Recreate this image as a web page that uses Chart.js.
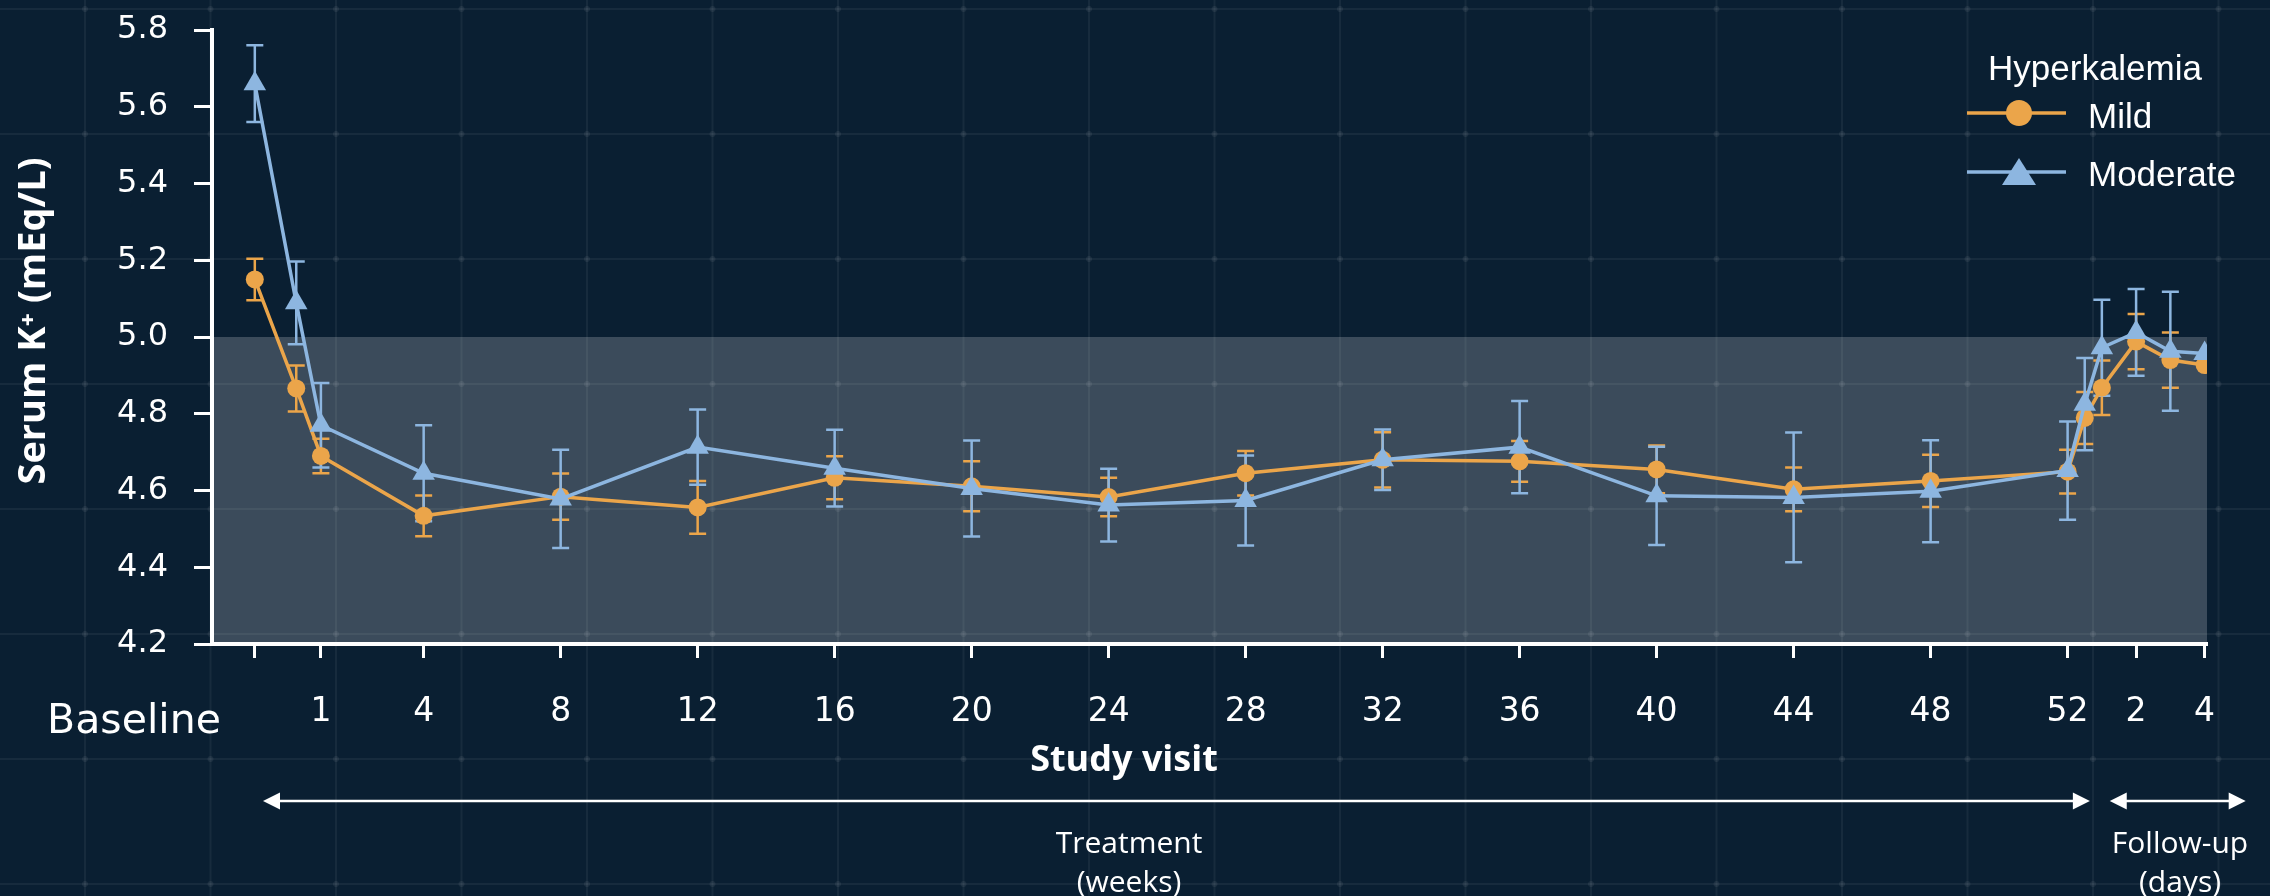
<!DOCTYPE html>
<html><head><meta charset="utf-8">
<script src="https://cdn.jsdelivr.net/npm/chart.js@4.4.1/dist/chart.umd.min.js"></script>
<style>html,body{margin:0;padding:0;background:#0a1f32;overflow:hidden}canvas{display:block}</style>
</head><body>
<canvas id="c" width="2270" height="896" style="width:2270px;height:896px"></canvas>
<script>
// ---- data (x position in weeks; follow-up days placed after week 52) ----
const visitPositions = [-0.93, 0.28, 1, 4, 8, 12, 16, 20, 24, 28, 32, 36, 40, 44, 48, 52, 52.5, 53, 54, 55, 56];
const mildMean     = [5.15, 4.866, 4.69, 4.534, 4.584, 4.556, 4.633, 4.611, 4.583, 4.645, 4.68, 4.676, 4.655, 4.603, 4.625, 4.649, 4.789, 4.868, 4.988, 4.94, 4.927];
const mildErr      = [0.054, 0.06, 0.045, 0.053, 0.06, 0.069, 0.056, 0.065, 0.05, 0.058, 0.072, 0.053, 0.062, 0.057, 0.068, 0.057, 0.068, 0.071, 0.072, 0.072, 0];
const moderateMean = [5.66, 5.089, 4.77, 4.645, 4.578, 4.713, 4.658, 4.605, 4.562, 4.574, 4.68, 4.713, 4.586, 4.582, 4.598, 4.652, 4.825, 4.972, 5.012, 4.963, 4.957];
const moderateErr  = [0.10, 0.108, 0.11, 0.125, 0.128, 0.098, 0.10, 0.125, 0.095, 0.117, 0.079, 0.12, 0.128, 0.169, 0.133, 0.128, 0.12, 0.125, 0.113, 0.155, 0];
const tickPositions = [-0.93, 1, 4, 8, 12, 16, 20, 24, 28, 32, 36, 40, 44, 48, 52, 54, 56];
const tickLabels    = ['Baseline', '1', '4', '8', '12', '16', '20', '24', '28', '32', '36', '40', '44', '48', '52', '2', '4'];
const yTicks = [4.2, 4.4, 4.6, 4.8, 5.0, 5.2, 5.4, 5.6, 5.8];
const normalRange = [4.2, 5.0];
const seriesNames = ['Mild', 'Moderate'];
const legendTitle = 'Hyperkalemia';
const yAxisTitle = 'Serum K\u207A (mEq/L)';
const xAxisTitle = 'Study visit';
const treatmentText = ['Treatment', '(weeks)'];
const followText = ['Follow-up', '(days)'];

const ORANGE = '#eba54a';
const BLUE = '#8db6e0';
const BG = '#0a1f32';

const toPts = (ys) => ys.map((y, i) => ({x: visitPositions[i], y}));

const bgPlugin = {
  id: 'bg',
  beforeDraw(chart) {
    const {ctx, width, height} = chart;
    ctx.save();
    ctx.fillStyle = BG;
    ctx.fillRect(0, 0, width, height);
    ctx.strokeStyle = 'rgba(255,255,255,0.055)';
    ctx.lineWidth = 2;
    for (let x = 85 - 125.5; x < width; x += 125.5) {
      ctx.beginPath(); ctx.moveTo(x, 0); ctx.lineTo(x, height); ctx.stroke();
    }
    for (let y = 9; y < height; y += 125) {
      ctx.beginPath(); ctx.moveTo(0, y); ctx.lineTo(width, y); ctx.stroke();
    }
    ctx.fillStyle = 'rgba(255,255,255,0.07)';
    for (let x = 85 - 125.5; x < width; x += 125.5) {
      for (let y = 9; y < height; y += 125) {
        ctx.beginPath(); ctx.arc(x, y, 3, 0, Math.PI * 2); ctx.fill();
      }
    }
    ctx.restore();
  }
};

const bandErrPlugin = {
  id: 'bandErr',
  beforeDatasetsDraw(chart) {
    const {ctx, chartArea} = chart;
    const xs = chart.scales.x, ys = chart.scales.y;
    ctx.save();
    const yTop = ys.getPixelForValue(normalRange[1]);
    const yBot = ys.getPixelForValue(normalRange[0]);
    ctx.fillStyle = 'rgba(255,255,255,0.2)';
    ctx.fillRect(chartArea.left, yTop, chartArea.right - chartArea.left, yBot - yTop);
    const sets = [[mildMean, mildErr, ORANGE], [moderateMean, moderateErr, BLUE]];
    ctx.lineWidth = 2.5;
    for (const [m, e, col] of sets) {
      ctx.strokeStyle = col;
      for (let i = 0; i < m.length; i++) {
        if (!e[i]) continue;
        const px = xs.getPixelForValue(visitPositions[i]);
        const t = ys.getPixelForValue(m[i] + e[i]);
        const b = ys.getPixelForValue(m[i] - e[i]);
        ctx.beginPath();
        ctx.moveTo(px, t); ctx.lineTo(px, b);
        ctx.moveTo(px - 8.5, t); ctx.lineTo(px + 8.5, t);
        ctx.moveTo(px - 8.5, b); ctx.lineTo(px + 8.5, b);
        ctx.stroke();
      }
    }
    ctx.restore();
  }
};

function arrowHead(ctx, x, y, dir) {
  ctx.beginPath();
  ctx.moveTo(x, y);
  ctx.lineTo(x - dir * 17, y - 8.5);
  ctx.lineTo(x - dir * 17, y + 8.5);
  ctx.closePath();
  ctx.fill();
}

const annoPlugin = {
  id: 'anno',
  afterDraw(chart) {
    const {ctx} = chart;
    const xs = chart.scales.x;
    ctx.save();
    ctx.fillStyle = '#ffffff';
    ctx.strokeStyle = '#ffffff';
    // Baseline label
    ctx.font = '41px "DejaVu Sans"';
    ctx.textAlign = 'center';
    ctx.textBaseline = 'alphabetic';
    ctx.fillText(tickLabels[0], 134, 733);
    // x title
    ctx.font = 'bold 36px "Open Sans"';
    ctx.fillText(xAxisTitle, 1124, 771);
    // y title
    ctx.save();
    ctx.translate(45, 321);
    ctx.rotate(-Math.PI / 2);
    ctx.font = 'bold 38px "Open Sans"';
    ctx.fillText(yAxisTitle, 0, 0);
    ctx.restore();
    // arrows
    const ay = 801;
    const t0 = xs.getPixelForValue(-0.69), t1 = xs.getPixelForValue(52.65);
    const f0 = xs.getPixelForValue(53.23), f1 = xs.getPixelForValue(57.2);
    ctx.lineWidth = 2.5;
    ctx.beginPath(); ctx.moveTo(t0 + 5, ay); ctx.lineTo(t1 - 5, ay); ctx.stroke();
    arrowHead(ctx, t0, ay, -1); arrowHead(ctx, t1, ay, 1);
    ctx.beginPath(); ctx.moveTo(f0 + 5, ay); ctx.lineTo(f1 - 5, ay); ctx.stroke();
    arrowHead(ctx, f0, ay, -1); arrowHead(ctx, f1, ay, 1);
    ctx.font = '30px "Open Sans"';
    ctx.fillText(treatmentText[0], 1129, 853);
    ctx.fillText(treatmentText[1], 1129, 892);
    ctx.fillText(followText[0], 2180, 853);
    ctx.fillText(followText[1], 2180, 892);
    // legend
    ctx.font = '35px "Liberation Sans"';
    ctx.textAlign = 'center';
    ctx.fillText(legendTitle, 2095, 80);
    ctx.textAlign = 'left';
    const rows = [[113, ORANGE, 'circle', seriesNames[0], 128], [172, BLUE, 'triangle', seriesNames[1], 186]];
    for (const [y, col, shape, name, base] of rows) {
      ctx.strokeStyle = col; ctx.fillStyle = col; ctx.lineWidth = 3.5;
      ctx.beginPath(); ctx.moveTo(1967, y); ctx.lineTo(2066, y); ctx.stroke();
      ctx.beginPath();
      if (shape === 'circle') {
        ctx.arc(2019, y, 13, 0, Math.PI * 2);
      } else {
        ctx.moveTo(2019, y - 14); ctx.lineTo(2036, y + 13); ctx.lineTo(2002, y + 13); ctx.closePath();
      }
      ctx.fill();
      ctx.fillStyle = '#ffffff';
      ctx.fillText(name, 2088, base);
    }
    ctx.restore();
  }
};

Chart.defaults.font.family = '"DejaVu Sans", sans-serif';
Chart.defaults.color = '#ffffff';

new Chart(document.getElementById('c'), {
  type: 'line',
  data: {
    datasets: [
      {label: seriesNames[0], data: toPts(mildMean), borderColor: ORANGE, backgroundColor: ORANGE,
       borderWidth: 3.5, pointStyle: 'circle', pointRadius: 9, pointBorderWidth: 0, order: 2, tension: 0},
      {label: seriesNames[1], data: toPts(moderateMean), borderColor: BLUE, backgroundColor: BLUE,
       borderWidth: 3.5, pointStyle: 'triangle', pointRadius: 13, pointBorderWidth: 0, order: 1, tension: 0}
    ]
  },
  options: {
    responsive: false,
    animation: false,
    devicePixelRatio: 1,
    layout: {padding: {left: 0, right: 63, top: 30, bottom: 0}},
    plugins: {legend: {display: false}, tooltip: {enabled: false}},
    scales: {
      x: {
        type: 'linear', min: -2.18, max: 56.07,
        afterBuildTicks: (s) => { s.ticks = tickPositions.map(v => ({value: v})); },
        afterFit: (s) => { s.height = 252; s.paddingLeft = 0; s.paddingRight = 0; },
        ticks: {
          autoSkip: false, maxRotation: 0, minRotation: 0, padding: 35,
          font: {size: 33}, color: '#ffffff',
          callback: (v, i) => (i === 0 ? '' : tickLabels[i])
        },
        grid: {drawOnChartArea: false, drawTicks: true, tickLength: 14, tickWidth: 3, tickColor: '#ffffff'},
        border: {display: true, color: '#ffffff', width: 4}
      },
      y: {
        type: 'linear', min: 4.2, max: 5.8,
        afterBuildTicks: (s) => { s.ticks = yTicks.map(v => ({value: v})); },
        afterFit: (s) => { s.width = 212; s.paddingTop = 0; s.paddingBottom = 0; },
        ticks: {padding: 26, font: {size: 32}, color: '#ffffff', callback: (v) => v.toFixed(1)},
        grid: {drawOnChartArea: false, drawTicks: true, tickLength: 18, tickWidth: 3, tickColor: '#ffffff'},
        border: {display: true, color: '#ffffff', width: 4}
      }
    }
  },
  plugins: [bgPlugin, bandErrPlugin, annoPlugin]
});
</script>
</body></html>
